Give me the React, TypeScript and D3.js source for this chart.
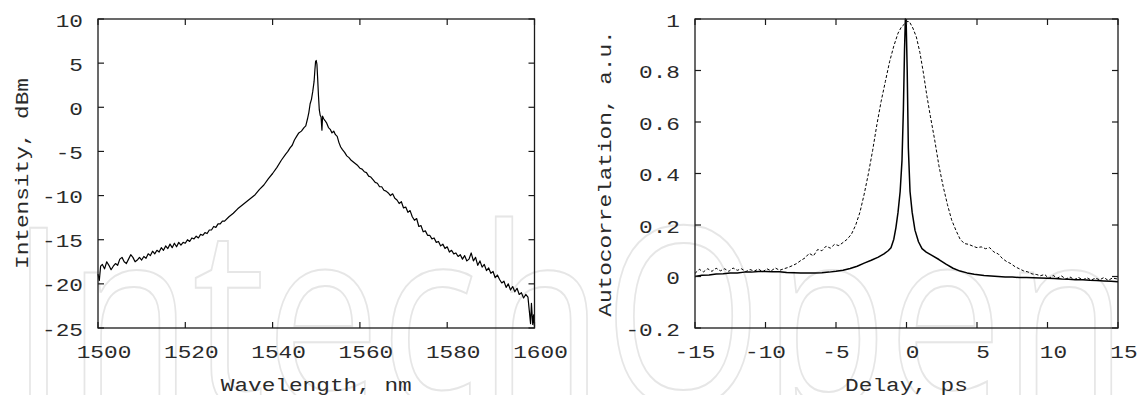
import React from "react";
import * as d3 from "d3";

// spectrum: [wavelength nm, intensity dBm]
const spectrum: [number, number][] = [
  [1500, -18.9], [1500.3, -19.6], [1500.6, -18.0], [1501, -17.8], [1501.5, -18.3], [1502, -17.5],
  [1502.5, -17.9], [1503, -18.4], [1503.5, -18.0], [1504, -17.7], [1504.5, -17.9], [1505, -17.2],
  [1505.5, -17.0], [1506, -17.5], [1506.5, -17.7], [1507, -17.2], [1507.5, -16.7], [1508, -17.0],
  [1508.5, -17.5], [1509, -17.3], [1509.5, -17.0], [1510, -17.3], [1510.5, -16.9], [1511, -17.1],
  [1511.5, -16.6], [1512, -16.8], [1512.5, -16.3], [1513, -16.6], [1513.5, -16.2], [1514, -16.4],
  [1514.5, -15.9], [1515, -16.2], [1515.5, -15.7], [1516, -16.0], [1516.5, -15.5], [1517, -15.9],
  [1517.5, -15.4], [1518, -15.8], [1518.5, -15.3], [1519, -15.6], [1519.5, -15.3], [1520, -15.4],
  [1520.5, -15.0], [1521, -15.2], [1521.5, -14.8], [1522, -14.9], [1522.5, -14.6], [1523, -14.8],
  [1523.5, -14.4], [1524, -14.5], [1524.5, -14.2], [1525, -14.3], [1525.5, -13.9], [1526, -13.9],
  [1526.5, -13.5], [1527, -13.6], [1527.5, -13.2], [1528, -13.2], [1528.5, -12.9], [1529, -12.9],
  [1530, -12.4], [1531, -12.0], [1532, -11.5], [1533, -11.1], [1534, -10.7], [1535, -10.3],
  [1536, -9.9], [1537, -9.3], [1538, -8.8], [1539, -8.1], [1540, -7.5], [1541, -6.8],
  [1542, -6.0], [1543, -5.3], [1543.5, -5.0], [1544, -4.6], [1544.5, -4.3], [1545, -3.7],
  [1545.5, -3.3], [1546, -2.9], [1546.6, -2.7], [1547.2, -2.3], [1547.6, -2.1], [1548, -1.3],
  [1548.3, -0.6], [1548.6, 0.4], [1548.9, 0.9], [1549.2, 1.8], [1549.5, 2.9], [1549.7, 4.3],
  [1549.85, 5.2], [1550.0, 5.3], [1550.15, 4.9], [1550.3, 3.5], [1550.5, 1.4], [1550.7, -0.3],
  [1550.9, -0.9], [1551.1, -1.1], [1551.3, -2.6], [1551.45, -1.0], [1551.7, -1.3], [1552.0, -1.5],
  [1552.4, -1.8], [1552.8, -2.3], [1553.2, -2.5], [1553.6, -2.9], [1554.0, -2.7], [1554.4, -3.1],
  [1554.8, -3.3], [1555.2, -4.0], [1555.6, -4.5], [1556.0, -4.8], [1556.5, -5.1], [1557, -5.5],
  [1557.5, -5.7], [1558, -6.0], [1558.5, -6.2], [1559, -6.4], [1559.5, -6.6], [1560, -6.9],
  [1560.5, -7.0], [1561, -7.3], [1561.5, -7.4], [1562, -7.8], [1562.5, -7.9], [1563, -8.2],
  [1563.5, -8.5], [1564, -8.6], [1564.5, -9.0], [1565, -9.0], [1565.5, -9.4], [1566, -9.5],
  [1566.5, -9.7], [1567, -10.0], [1567.5, -9.8], [1568, -10.3], [1568.5, -10.5], [1569, -10.9],
  [1569.5, -10.7], [1570, -11.4], [1570.5, -11.3], [1571, -11.9], [1571.5, -11.7], [1572, -12.4],
  [1572.5, -12.8], [1573, -12.6], [1573.5, -13.5], [1574, -13.4], [1574.5, -14.1], [1575, -14.0],
  [1575.5, -14.5], [1576, -14.5], [1576.5, -14.9], [1577, -14.8], [1577.5, -15.3], [1578, -15.2],
  [1578.5, -15.7], [1579, -15.5], [1579.5, -16.0], [1580, -15.8], [1580.5, -16.4], [1581, -16.2],
  [1581.5, -16.6], [1582, -16.5], [1582.5, -16.9], [1583, -16.7], [1583.5, -17.2], [1584, -16.8],
  [1584.5, -17.4], [1585, -17.2], [1585.5, -16.5], [1586, -17.4], [1586.5, -17.0], [1587, -17.9],
  [1587.5, -17.4], [1588, -18.1], [1588.5, -17.8], [1589, -18.5], [1589.5, -18.2], [1590, -18.8],
  [1590.5, -18.6], [1591, -19.3], [1591.5, -19.0], [1592, -19.5], [1592.5, -19.9], [1593, -19.7],
  [1593.5, -20.4], [1594, -20.0], [1594.5, -20.7], [1595, -20.3], [1595.5, -20.9], [1596, -20.5],
  [1596.5, -21.2], [1597, -21.0], [1597.5, -21.6], [1598, -21.2], [1598.5, -21.5], [1598.8, -23.0],
  [1599.1, -24.5], [1599.3, -22.2], [1599.6, -24.6], [1599.8, -23.5], [1600, -24.8],
];

// autocorrelation, solid trace: [delay ps, a.u.]
const acfSolid: [number, number][] = [
  [-15, 0.0], [-14.5, 0.005], [-14, 0.006], [-13.5, 0.01], [-13, 0.011], [-12.5, 0.014],
  [-12, 0.014], [-11.5, 0.017], [-11, 0.017], [-10.5, 0.019], [-10, 0.019], [-9.5, 0.018],
  [-9, 0.018], [-8.5, 0.016], [-8, 0.015], [-7.5, 0.014], [-7, 0.014], [-6.5, 0.014],
  [-6, 0.015], [-5.5, 0.017], [-5, 0.02], [-4.5, 0.024], [-4, 0.031], [-3.5, 0.04],
  [-3, 0.052], [-2.5, 0.063], [-2, 0.075], [-1.6, 0.088], [-1.3, 0.1], [-1.1, 0.112],
  [-0.9, 0.145], [-0.75, 0.19], [-0.6, 0.25], [-0.45, 0.33], [-0.32, 0.45], [-0.22, 0.65],
  [-0.14, 0.88], [-0.08, 1.0], [-0.02, 0.98], [0.05, 0.8], [0.13, 0.5], [0.25, 0.33],
  [0.4, 0.25], [0.6, 0.18], [0.85, 0.135], [1.1, 0.108], [1.4, 0.095], [1.8, 0.082],
  [2.3, 0.066], [2.8, 0.048], [3.3, 0.032], [3.8, 0.021], [4.3, 0.014], [4.8, 0.009],
  [5.5, 0.004], [6, 0.002], [6.5, 0.0], [7, -0.002], [7.5, -0.002], [8, -0.004],
  [8.5, -0.004], [9, -0.005], [9.5, -0.006], [10, -0.007], [10.5, -0.008], [11, -0.01],
  [11.5, -0.011], [12, -0.013], [12.5, -0.013], [13, -0.015], [13.5, -0.016], [14, -0.017],
  [14.5, -0.018], [15, -0.02],
];

// autocorrelation, dashed trace
const acfDashed: [number, number][] = [
  [-15, 0.012], [-14.7, 0.028], [-14.4, 0.018], [-14.1, 0.03], [-13.8, 0.02], [-13.5, 0.032],
  [-13.2, 0.022], [-12.9, 0.03], [-12.6, 0.02], [-12.3, 0.033], [-12.0, 0.024], [-11.7, 0.03],
  [-11.4, 0.019], [-11.1, 0.027], [-10.8, 0.021], [-10.5, 0.029], [-10.2, 0.018], [-9.9, 0.03],
  [-9.6, 0.022], [-9.3, 0.033], [-9.0, 0.024], [-8.7, 0.03], [-8.4, 0.035], [-8.1, 0.042],
  [-7.8, 0.05], [-7.5, 0.062], [-7.2, 0.072], [-6.9, 0.09], [-6.6, 0.08], [-6.3, 0.105],
  [-6.0, 0.1], [-5.7, 0.118], [-5.4, 0.11], [-5.1, 0.125], [-4.8, 0.12], [-4.5, 0.132],
  [-4.2, 0.145], [-3.9, 0.165], [-3.6, 0.2], [-3.3, 0.25], [-3.0, 0.32], [-2.7, 0.4],
  [-2.4, 0.49], [-2.1, 0.59], [-1.8, 0.68], [-1.5, 0.757], [-1.2, 0.834], [-0.9, 0.895],
  [-0.6, 0.945], [-0.35, 0.97], [-0.15, 0.98], [0.0, 0.99], [0.2, 0.99], [0.45, 0.965],
  [0.7, 0.93], [0.95, 0.87], [1.2, 0.79], [1.45, 0.7], [1.7, 0.62], [2.0, 0.53],
  [2.3, 0.43], [2.6, 0.35], [2.9, 0.28], [3.2, 0.22], [3.5, 0.18], [3.8, 0.145],
  [4.1, 0.128], [4.4, 0.125], [4.7, 0.118], [5.0, 0.112], [5.3, 0.115], [5.6, 0.108],
  [5.9, 0.112], [6.2, 0.095], [6.5, 0.088], [6.8, 0.07], [7.1, 0.058], [7.4, 0.05],
  [7.7, 0.038], [8.0, 0.03], [8.3, 0.022], [8.6, 0.018], [8.9, 0.01], [9.2, 0.008],
  [9.5, 0.003], [9.8, 0.008], [10.1, -0.008], [10.4, 0.004], [10.7, -0.006], [11.0, 0.002],
  [11.3, -0.01], [11.6, -0.002], [11.9, -0.012], [12.2, -0.004], [12.5, -0.013], [12.8, -0.005],
  [13.1, -0.014], [13.4, -0.006], [13.7, -0.013], [14.0, -0.004], [14.3, -0.015], [14.6, -0.006],
  [15.0, -0.01],
];

const wlTicks = [1500, 1520, 1540, 1560, 1580, 1600];
const dbmTicks = [-25, -20, -15, -10, -5, 0, 5, 10];
const delayTicks = [-15, -10, -5, 0, 5, 10, 15];
const acfTicks = [-0.2, 0, 0.2, 0.4, 0.6, 0.8, 1];

const W = 1140, H = 395;
const TOP = 19, BOTTOM = 328;
const FONT = "'Liberation Mono', 'DejaVu Sans Mono', monospace";
const FS = 17.5;
const SX = 1.3;
const INK = "#1a1a1a";
const TXT = "#2a2a2a";

function Txt({ x, y, anchor = "middle", rot = 0, children }: any) {
  return (
    <text
      transform={`translate(${x},${y}) rotate(${rot}) scale(${SX},1)`}
      textAnchor={anchor}
      fontFamily={FONT}
      fontSize={FS}
      fill={TXT}
    >
      {children}
    </text>
  );
}

function fmt(v: number) {
  return String(Math.round(v * 10) / 10);
}

function Panel({ x0, x1, xDomain, yDomain, xTicks, yTicks, xTitle, yTitle, yTitleX, series }: any) {
  const x = d3.scaleLinear().domain(xDomain).range([x0, x1]);
  const y = d3.scaleLinear().domain(yDomain).range([BOTTOM, TOP]);
  const line = d3.line<[number, number]>().x((d) => x(d[0])).y((d) => y(d[1]));
  const tl = 6;
  return (
    <g>
      {series.map((s: any, i: number) => (
        <path key={i} d={line(s.data) || ""} fill="none" stroke="#000" strokeWidth={s.width}
          strokeDasharray={s.dash} strokeLinejoin="round" />
      ))}
      <rect x={x0} y={TOP} width={x1 - x0} height={BOTTOM - TOP} fill="none" stroke={INK} strokeWidth={1.3} />
      {xTicks.map((t: number) => (
        <g key={"x" + t}>
          <line x1={x(t)} x2={x(t)} y1={BOTTOM} y2={BOTTOM - tl} stroke={INK} strokeWidth={1.2} />
          <line x1={x(t)} x2={x(t)} y1={TOP} y2={TOP + tl} stroke={INK} strokeWidth={1.2} />
          <Txt x={x(t) + (t >= 0 ? 6 : 0)} y={358}>{fmt(t)}</Txt>
        </g>
      ))}
      {yTicks.map((t: number) => (
        <g key={"y" + t}>
          <line x1={x0} x2={x0 + tl} y1={y(t)} y2={y(t)} stroke={INK} strokeWidth={1.2} />
          <line x1={x1} x2={x1 - tl} y1={y(t)} y2={y(t)} stroke={INK} strokeWidth={1.2} />
          <Txt x={x0 - 15} y={y(t) + 7.5} anchor="end">{fmt(t)}</Txt>
        </g>
      ))}
      <Txt x={(x0 + x1) / 2} y={391}>{xTitle}</Txt>
      <Txt x={yTitleX} y={(TOP + BOTTOM) / 2} rot={-90}>{yTitle}</Txt>
    </g>
  );
}

export default function App() {
  return (
    <svg width={W} height={H} style={{ position: "absolute", left: 0, top: 0, background: "#fff" }}>
      <rect width={W} height={H} fill="#fff" />
      <text x={10} y={406} fontFamily="'Open Sans', sans-serif" fontSize={250} fill="none"
        stroke="#e6e6e6" strokeWidth={2} textLength={1118} lengthAdjust="spacingAndGlyphs">
        IntechOpen
      </text>
      <Panel
        x0={98} x1={534.5} xDomain={[1500, 1600]} yDomain={[-25, 10]}
        xTicks={wlTicks} yTicks={dbmTicks}
        xTitle="Wavelength, nm" yTitle="Intensity, dBm" yTitleX={28}
        series={[{ data: spectrum, width: 1.2 }]}
      />
      <Panel
        x0={695} x1={1118} xDomain={[-15, 15]} yDomain={[-0.2, 1]}
        xTicks={delayTicks} yTicks={acfTicks}
        xTitle="Delay, ps" yTitle="Autocorrelation, a.u." yTitleX={611}
        series={[
          { data: acfDashed, width: 1, dash: "3,2" },
          { data: acfSolid, width: 1.5 },
        ]}
      />
    </svg>
  );
}
